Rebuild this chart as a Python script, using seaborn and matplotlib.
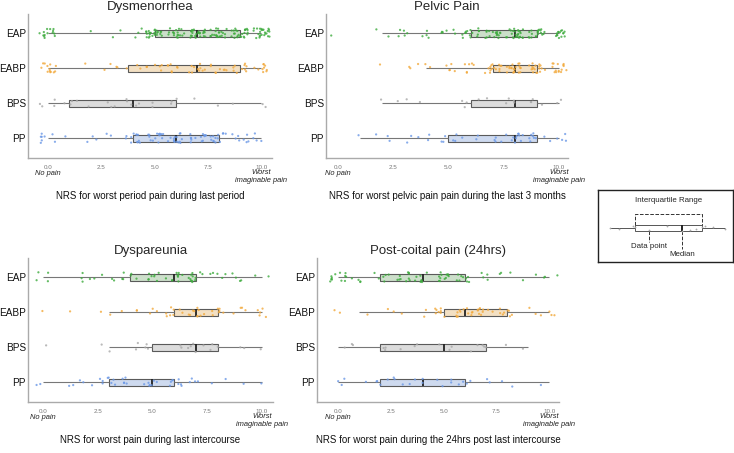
import numpy as np
import pandas as pd
import seaborn as sns
import matplotlib.pyplot as plt
from matplotlib import transforms

# NRS scores 0..10 and the four groups
scores = np.arange(11)
groups = ['EAP', 'EABP', 'BPS', 'PP']

# number of respondents at each score (0..10)
dys_eap = [14, 0, 1, 2, 3, 25, 18, 25, 22, 25, 25]
dys_eabp = [13, 0, 1, 4, 3, 6, 7, 10, 8, 10, 10]
dys_bps = [4, 4, 1, 3, 5, 2, 3, 1, 1, 1, 2]
dys_pp = [8, 1, 3, 2, 12, 15, 15, 14, 13, 8, 4]

pel_eap = [1, 0, 2, 5, 4, 6, 15, 18, 25, 20, 15]
pel_eabp = [0, 0, 1, 2, 3, 5, 6, 15, 20, 18, 15]
pel_bps = [0, 0, 1, 2, 1, 0, 4, 1, 4, 4, 2]
pel_pp = [0, 1, 3, 2, 3, 6, 3, 4, 11, 8, 5]

dpa_eap = [4, 0, 5, 3, 6, 8, 10, 12, 5, 4, 2]
dpa_eabp = [1, 1, 0, 2, 3, 3, 8, 10, 7, 4, 5]
dpa_bps = [1, 0, 0, 2, 2, 3, 2, 5, 3, 2, 1]
dpa_pp = [2, 2, 3, 8, 5, 7, 8, 4, 2, 1, 1]

pcp_eap = [12, 4, 6, 10, 8, 12, 9, 4, 3, 2, 3]
pcp_eabp = [2, 1, 1, 2, 2, 8, 12, 10, 8, 2, 4]
pcp_bps = [1, 2, 3, 1, 2, 3, 1, 4, 1, 1, 0]
pcp_pp = [3, 1, 4, 4, 3, 4, 4, 2, 2, 0, 1]

titles = ['Dysmenorrhea', 'Pelvic Pain', 'Dyspareunia', 'Post-coital pain (24hrs)']
xlabels = ['NRS for worst period pain during last period',
           'NRS for worst pelvic pain pain during the last 3 months',
           'NRS for worst pain during last intercourse',
           'NRS for worst pain during the 24hrs post last intercourse']
panel_counts = [[dys_eap, dys_eabp, dys_bps, dys_pp],
                [pel_eap, pel_eabp, pel_bps, pel_pp],
                [dpa_eap, dpa_eabp, dpa_bps, dpa_pp],
                [pcp_eap, pcp_eabp, pcp_bps, pcp_pp]]

# schematic values for the little key box
key_values = [0, 0.8, 2, 2.2, 3.4, 5, 6.3, 7, 7.5, 8, 8.3, 9, 10]

fill_colors = {'EAP': '#c9e3c6', 'EABP': '#fbe2bb', 'BPS': '#dcdcdc', 'PP': '#c8d8f4'}
point_colors = {'EAP': '#3dab3d', 'EABP': '#f2a93b', 'BPS': '#a8a8a8', 'PP': '#6b98e6'}

sns.set_style('white')
plt.rcParams['font.family'] = ['Liberation Sans', 'DejaVu Sans']

fig = plt.figure(figsize=(7.34, 4.53), dpi=100)
positions = [[0.0381, 0.6512, 0.3324, 0.3179],
             [0.4441, 0.6512, 0.3297, 0.3179],
             [0.0381, 0.1126, 0.3338, 0.3179],
             [0.4319, 0.1126, 0.3297, 0.3179]]
xlims = [(-0.94, 10.5), (-0.54, 10.41), (-0.68, 10.51), (-1.0, 10.47)]

rng = np.random.default_rng(7)
np.random.seed(7)

for i in range(4):
    rows = []
    for g, cnt in zip(groups, panel_counts[i]):
        for s, c in zip(scores, cnt):
            rows += [(g, s)] * c
    d = pd.DataFrame(rows, columns=['group', 'score'])
    # horizontal jitter for display only (like geom_jitter)
    d['xj'] = d['score'] + rng.uniform(-0.4, 0.4, len(d))

    ax = fig.add_axes(positions[i])
    sns.boxplot(data=d, x='score', y='group', order=groups, hue='group',
                palette=fill_colors, width=0.2, showfliers=False,
                linewidth=0.8, linecolor='#5a5a5a', legend=False,
                medianprops={'color': '#222222', 'linewidth': 1.3},
                whiskerprops={'color': '#777777'},
                capprops={'linewidth': 0}, ax=ax)
    sns.stripplot(data=d, x='xj', y='group', order=groups, hue='group',
                  palette=point_colors, jitter=0.14, size=1.6, alpha=0.8,
                  linewidth=0, legend=False, ax=ax, zorder=3)

    ax.set_xlim(*xlims[i])
    ax.set_ylim(3.57, -0.55)
    ax.set_xticks([0, 2.5, 5, 7.5, 10])
    ax.set_xticklabels(['0.0', '2.5', '5.0', '7.5', '10.0'])
    ax.tick_params(axis='x', labelsize=4.5, colors='#777777', length=2, pad=3)
    ax.tick_params(axis='y', labelsize=7.2, labelcolor='#111111', length=0, pad=1.5)
    for sp in ['top', 'right']:
        ax.spines[sp].set_visible(False)
    for sp in ['left', 'bottom']:
        ax.spines[sp].set_color('#aaaaaa')
        ax.spines[sp].set_linewidth(1.0)

    ax.set_title(titles[i], fontsize=9.5, pad=3)
    ax.set_ylabel('')
    ax.set_xlabel(xlabels[i], fontsize=7.0, color='#111111')
    ax.xaxis.set_label_coords(0.5, -0.23)

    trans = transforms.blended_transform_factory(ax.transData, ax.transAxes)
    ax.text(0, -0.11, 'No pain', transform=trans, ha='center', va='center',
            fontsize=5.4, style='italic', color='#222222')
    ax.text(10, -0.075, 'Worst\nimaginable pain', transform=trans, ha='center',
            va='top', fontsize=5.4, style='italic', color='#222222',
            linespacing=1.25)

# key explaining the box elements
kax = fig.add_axes([598 / 734, (453 - 262) / 453, 135 / 734, 72 / 453])
kd = pd.DataFrame({'v': key_values, 'g': ['k'] * len(key_values)})
sns.boxplot(data=kd, x='v', y='g', color='white', width=0.3, showfliers=False,
            linewidth=0.7, linecolor='#555555',
            medianprops={'color': '#222222', 'linewidth': 1.4},
            capprops={'linewidth': 0}, ax=kax)
sns.stripplot(data=kd, x='v', y='g', color='#aaaaaa', jitter=0.15, size=1.3,
              linewidth=0, ax=kax, zorder=3)
kax.set_xlim(-1.04, 10.7)
kax.set_ylim(1.7, -1.9)
kax.set_xticks([])
kax.set_yticks([])
kax.set_xlabel('')
kax.set_ylabel('')
for sp in kax.spines.values():
    sp.set_visible(True)
    sp.set_color('#222222')
    sp.set_linewidth(1.0)

q1, med, q3 = np.percentile(key_values, [25, 50, 75])
kax.plot([q1, q1, q3, q3], [-0.15, -0.7, -0.7, -0.15], ls='--', color='#333333', lw=0.7)
kax.plot([med, med], [0.15, 1.05], ls='--', color='#333333', lw=0.7)
kax.plot([key_values[4]] * 2, [0.15, 0.7], ls='--', color='#333333', lw=0.7)
kax.text((q1 + q3) / 2, -1.35, 'Interquartile Range', ha='center', va='center',
         fontsize=5.7)
kax.text(key_values[4], 0.9, 'Data point', ha='center', va='center', fontsize=5.7)
kax.text(med, 1.3, 'Median', ha='center', va='center', fontsize=5.7)

fig.savefig('out.png', dpi=100)
